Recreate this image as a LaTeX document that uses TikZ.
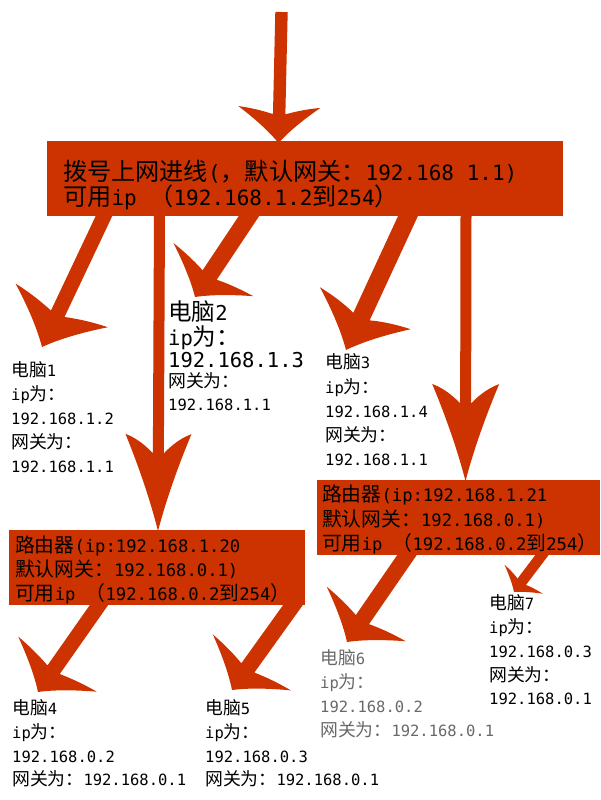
\documentclass[tikz,border=0pt]{standalone}
\usepackage{fontspec}
\setmainfont{DejaVu Sans Mono}
\newfontfamily\cjkf[Scale=1.15]{Noto Sans CJK SC}
\newcommand\C[1]{{\cjkf #1}}
\usetikzlibrary{calc}
\definecolor{arrowred}{RGB}{204,51,0}
\definecolor{txtgray}{RGB}{105,105,105}
% #1 start coord, #2 tip coord, #3 half shaft width, #4 head length, #5 head half width, #6 extra shaft
\newcommand\fatarrow[6]{%
  \path let \p1=(#1), \p2=(#2), \n1={atan2(\y2-\y1,\x2-\x1)}, \n2={veclen(\x2-\x1,\y2-\y1)} in
    \pgfextra{\xdef\farang{\n1}\xdef\farlen{\n2}};
  \fill[arrowred, shift={(#2)}, rotate=\farang]
    (0,0) .. controls ({-0.33*#4},{0.25*#5}) and ({-0.67*#4},{0.6*#5}) .. ({-#4},{#5})
    .. controls ({-0.95*#4},{0.6*#5}) and ({-0.85*#4},{0.3*#5}) .. ({-0.8*#4},{#3})
    -- ({-\farlen-#6},{#3}) -- ({-\farlen-#6},{-#3}) -- ({-0.8*#4},{-#3})
    .. controls ({-0.85*#4},{-0.3*#5}) and ({-0.95*#4},{-0.6*#5}) .. ({-#4},{-#5})
    .. controls ({-0.67*#4},{-0.6*#5}) and ({-0.33*#4},{-0.25*#5}) .. (0,0) -- cycle;
}
\tikzset{
  redbox/.style={fill=arrowred, draw=none, inner sep=0pt, outer sep=0pt, anchor=north west},
  mtxt/.style={anchor=base west, inner sep=0pt, font=\fontsize{21pt}{25pt}\selectfont},
  rtxt/.style={anchor=base west, inner sep=0pt, font=\fontsize{17.2pt}{24pt}\selectfont},
  btxt/.style={anchor=base west, inner sep=0pt, font=\fontsize{20.5pt}{24pt}\selectfont},
  stxt/.style={anchor=base west, inner sep=0pt, font=\fontsize{15.5pt}{24pt}\selectfont},
}
\begin{document}
\begin{tikzpicture}[x=1pt,y=-1pt]
\useasboundingbox (0,0) rectangle (600,800);
% arrow end points
\coordinate (in0) at (281.5,12);   \coordinate (t0) at (278.5,143);
\coordinate (s1) at (104,216);     \coordinate (t1) at (42,347);
\coordinate (s2) at (249,216);     \coordinate (t2) at (195,297);
\coordinate (s3) at (408,216);     \coordinate (t3) at (346,350);
\coordinate (sr1) at (159.5,216);  \coordinate (tr1) at (158,531);
\coordinate (sr2) at (466,216);    \coordinate (tr2) at (465.5,481);
\coordinate (s4) at (99,605);      \coordinate (t4) at (38,692);
\coordinate (s5) at (293,605);     \coordinate (t5) at (232,690);
\coordinate (s6) at (407,555);     \coordinate (t6) at (347,642);
\coordinate (s7) at (542,555);     \coordinate (t7) at (514,592);
% arrows
\fatarrow{in0}{t0}{6.2}{36}{41}{0}
\fatarrow{s1}{t1}{7.5}{46}{51}{10}
\fatarrow{s2}{t2}{8.5}{33}{48}{10}
\fatarrow{s3}{t3}{9}{46}{50}{10}
\fatarrow{sr1}{tr1}{5.5}{97}{33}{10}
\fatarrow{sr2}{tr2}{5.5}{97}{33.5}{10}
\fatarrow{s4}{t4}{7.5}{34}{48}{10}
\fatarrow{s5}{t5}{8}{34}{48}{10}
\fatarrow{s6}{t6}{8}{34}{48}{10}
\fatarrow{s7}{t7}{5.3}{16}{24}{10}
% boxes
\node[redbox, minimum width=516pt, minimum height=75pt] (mainbox) at (47,141) {};
\node[redbox, minimum width=296pt, minimum height=75pt] (router1) at (9,530) {};
\node[redbox, minimum width=283pt, minimum height=75pt] (router2) at (317,480) {};
% main box text
\node[mtxt] (m1) at (63,180.5) {\C{拨号上网进线}(\C{，默认网关：}192.168 1.1)};
\node[mtxt] (m2) at (63,205.5) {\C{可用}ip \C{（}192.168.1.2\C{到}254\C{）}};
% router 1 text
\node[rtxt] (r1a) at (15,552.7) {\C{路由器}(ip:192.168.1.20};
\node[rtxt] (r1b) at (15,576.7) {\C{默认网关：}192.168.0.1)};
\node[rtxt] (r1c) at (15,600.7) {\C{可用}ip \C{（}192.168.0.2\C{到}254\C{）}};
% router 2 text
\node[rtxt] (r2a) at (322,501.7) {\C{路由器}(ip:192.168.1.21};
\node[rtxt] (r2b) at (322,526.7) {\C{默认网关：}192.168.0.1)};
\node[rtxt] (r2c) at (322,550.7) {\C{可用}ip \C{（}192.168.0.2\C{到}254\C{）}};
% PC 1
\foreach \t [count=\i from 0] in {{\C{电脑}1},{ip\C{为：}},{192.168.1.2},{\C{网关为：}},{192.168.1.1}}
  \node[stxt] (pc1-\i) at (11,{376.3+24*\i}) {\t};
% PC 2
\node[btxt] (pc2-0) at (168,320) {\C{电脑}2};
\node[btxt] (pc2-1) at (168,345) {ip\C{为：}};
\node[btxt] (pc2-2) at (168,367.5) {192.168.1.3};
\node[stxt] (pc2-3) at (168,387) {\C{网关为：}};
\node[stxt] (pc2-4) at (168,410.5) {192.168.1.1};
% PC 3
\foreach \t [count=\i from 0] in {{\C{电脑}3},{ip\C{为：}},{192.168.1.4},{\C{网关为：}},{192.168.1.1}}
  \node[stxt] (pc3-\i) at (325,{368.8+24.25*\i}) {\t};
% PC 4
\foreach \t [count=\i from 0] in {{\C{电脑}4},{ip\C{为：}},{192.168.0.2},{\C{网关为：}192.168.0.1}}
  \node[stxt] (pc4-\i) at (12,{714.8+23.7*\i}) {\t};
% PC 5
\foreach \t [count=\i from 0] in {{\C{电脑}5},{ip\C{为：}},{192.168.0.3},{\C{网关为：}192.168.0.1}}
  \node[stxt] (pc5-\i) at (205,{714.8+23.7*\i}) {\t};
% PC 6
\foreach \t [count=\i from 0] in {{\C{电脑}6},{ip\C{为：}},{192.168.0.2},{\C{网关为：}192.168.0.1}}
  \node[stxt, text=txtgray] (pc6-\i) at (320,{664.8+24*\i}) {\t};
% PC 7
\foreach \t [count=\i from 0] in {{\C{电脑}7},{ip\C{为：}},{192.168.0.3},{\C{网关为：}},{192.168.0.1}}
  \node[stxt] (pc7-\i) at (489,{609.8+23.75*\i}) {\t};
\end{tikzpicture}
\end{document}
